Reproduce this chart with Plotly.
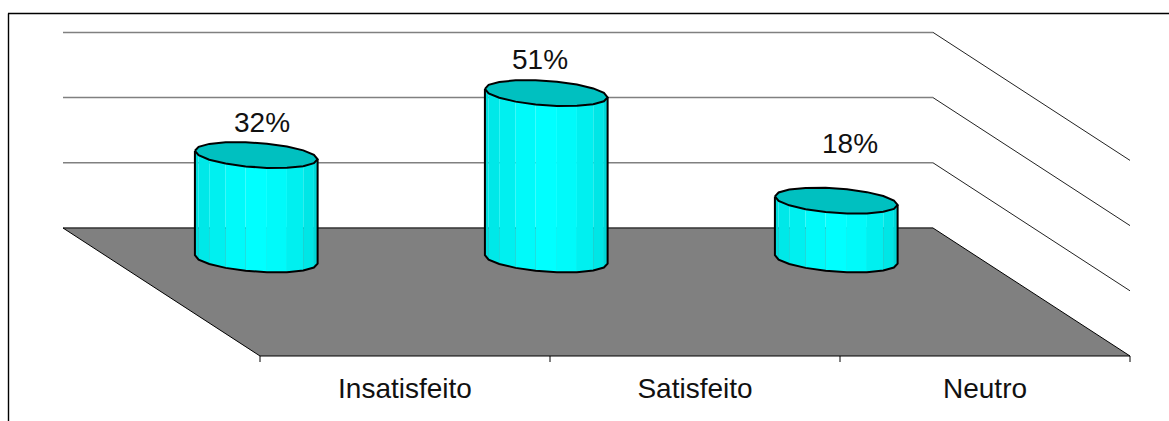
import math
import plotly.graph_objects as go

# ---- data ----
categories = ["Insatisfeito", "Satisfeito", "Neutro"]
values = [32, 51, 18]
value_labels = ["32%", "51%", "18%"]
grid_values = [20, 40, 60]

# ---- styling / oblique projection ----
W, H = 1169, 421
CAT_PX = 290.0
VAL_PX = 3.26
DEPTH_X = 197 / CAT_PX    # category units per unit depth
DEPTH_Y = 128 / VAL_PX    # value units per unit depth
SERIES_DEPTH = 0.245
R_CAT = 0.2
R_DEPTH = 0.1016
N_FACETS = 9
facet_shades = [222, 232, 240, 250, 255, 250, 240, 230, 214]
CAP = "#00C0C0"
FLOOR = "#808080"
FONT = "Liberation Sans"
label_shift = [(6, 33), (-6, 34), (14, 57)]


def proj(c, d, v):
    return c + d * DEPTH_X, v - d * DEPTH_Y


x_min = -63 / CAT_PX
x_max = (W - 63) / CAT_PX
y_max = 228 / VAL_PX
y_min = -(H - 228) / VAL_PX

fig = go.Figure()


def poly(points, fill=None, color=None, width=0):
    xs = [p[0] for p in points]
    ys = [p[1] for p in points]
    fig.add_trace(go.Scatter(
        x=xs, y=ys, mode="lines", hoverinfo="skip", showlegend=False,
        fill="toself" if fill else "none", fillcolor=fill,
        line=dict(color=color or "rgba(0,0,0,0)", width=width),
    ))


n = len(categories)
# gridlines: back wall (grey) and side wall (thin black)
for g in grid_values:
    poly([proj(0, 0, g), proj(n, 0, g)], color="#808080", width=1.5)
    poly([proj(n, 0, g), proj(n, 1, g)], color="#222222", width=1)

# floor
poly([proj(0, 0, 0), proj(n, 0, 0), proj(n, 1, 0), proj(0, 1, 0), proj(0, 0, 0)], fill=FLOOR)
poly([proj(0, 0, 0), proj(n, 0, 0)], color="#333333", width=1.5)
poly([proj(n, 0, 0), proj(n, 1, 0), proj(0, 1, 0), proj(0, 0, 0)], color="#000000", width=1)

# tick marks below the front floor edge
for i in range(n + 1):
    x0, y0 = proj(i, 1, 0)
    poly([(x0, y0), (x0, y0 - 6 / VAL_PX)], color="#000000", width=1)

# cylinders
A = R_CAT * CAT_PX
B = R_DEPTH * 197
a0 = math.atan2(B, A)
step = math.pi / N_FACETS


def ring(i, v, angles):
    out = []
    for t in angles:
        c = i + 0.5 + R_CAT * math.cos(t)
        d = SERIES_DEPTH + R_DEPTH * math.sin(t)
        out.append(proj(c, d, v))
    return out


front = [math.pi + a0 - k * step for k in range(N_FACETS + 1)]
whole = [math.pi + a0 - k * step for k in range(2 * N_FACETS + 1)]

for i, v in enumerate(values):
    low = ring(i, 0, front)
    high = ring(i, v, front)
    for k in range(N_FACETS):
        s = facet_shades[k]
        poly([low[k], low[k + 1], high[k + 1], high[k], low[k]], fill=f"rgb(0,{s},{s})")
    poly([high[0]] + low + [high[-1]], color="#000000", width=2)
    poly(ring(i, v, whole), fill=CAP, color="#000000", width=2)

annotations = []
for i, v in enumerate(values):
    x, y = proj(i + 0.5, SERIES_DEPTH, v)
    annotations.append(dict(
        x=x, y=y, text=value_labels[i], showarrow=False, xref="x", yref="y",
        xshift=label_shift[i][0], yshift=label_shift[i][1],
        font=dict(family=FONT, size=28, color="#111111"),
    ))

fig.update_layout(
    width=W, height=H, margin=dict(l=0, r=0, t=0, b=0),
    paper_bgcolor="white", plot_bgcolor="white", showlegend=False,
    annotations=annotations,
    xaxis=dict(
        range=[x_min, x_max], anchor="free", position=(H - 356) / H,
        tickmode="array",
        tickvals=[proj(i + 0.5, 1, 0)[0] for i in range(n)],
        ticktext=categories, ticks="", ticklen=0, showgrid=False, zeroline=False, showline=False,
        ticklabelstandoff=13,
        tickfont=dict(family=FONT, size=28, color="#111111"),
    ),
    yaxis=dict(range=[y_min, y_max], visible=False, domain=[0, 1]),
    shapes=[
        dict(type="line", xref="paper", yref="paper", x0=8.5 / W, x1=8.5 / W, y0=0, y1=1 - 13.5 / H,
             line=dict(color="#000000", width=1.4)),
        dict(type="line", xref="paper", yref="paper", x0=8 / W, x1=1, y0=1 - 13.5 / H, y1=1 - 13.5 / H,
             line=dict(color="#000000", width=1.4)),
    ],
)

fig.write_html("out.html", config={"displayModeBar": False},
               post_script="document.body.style.margin='0';document.body.style.overflow='hidden';")
